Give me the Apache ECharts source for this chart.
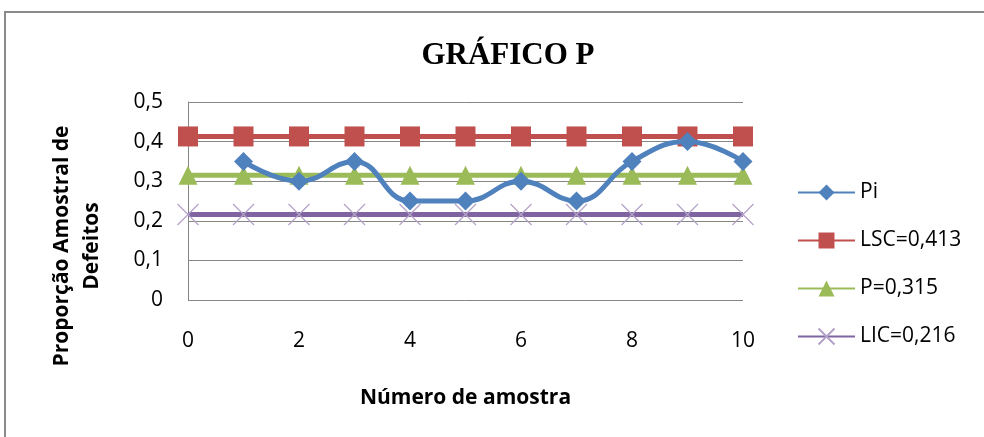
<!DOCTYPE html>
<html>
<head>
<meta charset="utf-8">
<script src="https://cdn.jsdelivr.net/npm/echarts@6/dist/echarts.min.js"></script>
<style>
html, body { margin: 0; padding: 0; background: #fff; }
#main { width: 984px; height: 437px; }
</style>
</head>
<body>
<div id="main"></div>
<script>
// amostras e proporções
const amostraPi = [1, 2, 3, 4, 5, 6, 7, 8, 9, 10]
const valoresPi = [0.35, 0.30, 0.35, 0.25, 0.25, 0.30, 0.25, 0.35, 0.40, 0.35]
const amostraLim = [0, 1, 2, 3, 4, 5, 6, 7, 8, 9, 10]
const LSC = 0.413
const P = 0.315
const LIC = 0.216
const nomes = ['Pi', 'LSC=0,413', 'P=0,315', 'LIC=0,216']

const chart = echarts.init(document.getElementById('main'))
const font = "'Open Sans', 'Liberation Sans', sans-serif"

function pares(xs, ys) {
    return xs.map((x, i) => [x, ys[i]])
}
function constante(xs, v) {
    return xs.map(x => [x, v])
}

chart.setOption({
    animation: false,
    title: {
        text: 'GRÁFICO P',
        left: 503,
        top: 35,
        textAlign: 'center',
        textStyle: {
            fontFamily: "'Liberation Serif', 'DejaVu Serif', serif",
            fontWeight: 'bold',
            fontSize: 31,
            color: '#000'
        }
    },
    graphic: [
        {
            type: 'rect',
            shape: { x: 5, y: 12, width: 1100, height: 600 },
            style: { fill: 'none', stroke: '#8a8a8a', lineWidth: 2 },
            silent: true
        },
        {
            type: 'text',
            x: 77,
            y: 246,
            rotation: Math.PI / 2,
            style: {
                text: 'Proporção Amostral de\nDefeitos',
                fontFamily: font,
                fontWeight: 'bold',
                fontSize: 21,
                lineHeight: 30,
                align: 'center',
                verticalAlign: 'middle',
                fill: '#000'
            }
        }
    ],
    grid: { left: 188, top: 102, right: 241, bottom: 137 },
    legend: {
        orient: 'vertical',
        left: 792,
        top: 177,
        itemWidth: 57,
        itemHeight: 20,
        itemGap: 27,
        textStyle: { fontFamily: font, fontSize: 21, color: '#000' },
        data: nomes
    },
    xAxis: {
        type: 'value',
        min: 0,
        max: 10,
        interval: 2,
        name: 'Número de amostra',
        nameLocation: 'middle',
        nameGap: 88,
        nameTextStyle: { fontFamily: font, fontWeight: 'bold', fontSize: 21, color: '#000' },
        axisLine: { show: false },
        axisTick: { show: false },
        splitLine: { show: false },
        axisLabel: { margin: 31, fontFamily: font, fontSize: 21, color: '#000' }
    },
    yAxis: {
        type: 'value',
        min: 0,
        max: 0.5,
        interval: 0.1,
        axisLine: { show: true, lineStyle: { color: '#868686', width: 1 } },
        axisTick: { show: false },
        splitLine: { show: true, lineStyle: { color: '#868686', width: 1 } },
        axisLabel: {
            margin: 25,
            fontFamily: font,
            fontSize: 21,
            color: '#000',
            formatter: v => String(Math.round(v * 10) / 10).replace('.', ',')
        }
    },
    series: [
        {
            name: nomes[1],
            type: 'line',
            data: constante(amostraLim, LSC),
            symbol: 'rect',
            symbolSize: 20,
            color: '#C0504D',
            lineStyle: { width: 5 },
            z: 3
        },
        {
            name: nomes[2],
            type: 'line',
            data: constante(amostraLim, P),
            symbol: 'triangle',
            symbolSize: 19,
            color: '#9BBB59',
            lineStyle: { width: 5 },
            z: 3
        },
        {
            name: nomes[3],
            type: 'line',
            data: constante(amostraLim, LIC),
            symbol: 'path://M0,0L10,10M10,0L0,10',
            symbolSize: 21,
            color: '#8064A2',
            itemStyle: { color: 'none', borderColor: '#B3A2C7', borderWidth: 1.2 },
            lineStyle: { width: 5, color: '#8064A2' },
            z: 3
        },
        {
            name: nomes[0],
            type: 'line',
            data: pares(amostraPi, valoresPi),
            smooth: 0.45,
            symbol: 'diamond',
            symbolSize: 19,
            color: '#4F81BD',
            lineStyle: { width: 5 },
            z: 4
        }
    ]
})
</script>
</body>
</html>
